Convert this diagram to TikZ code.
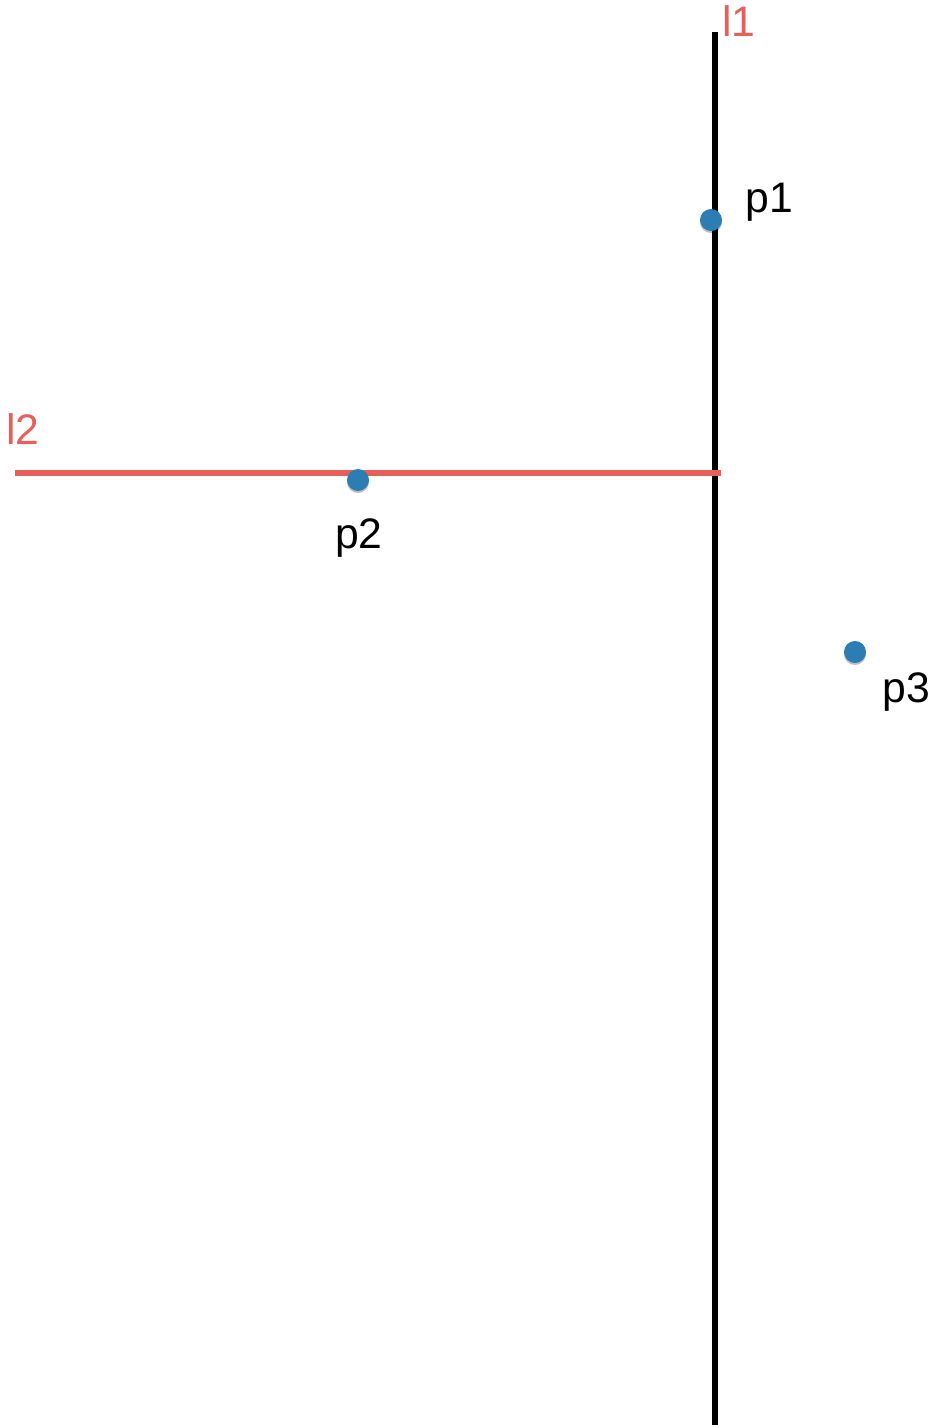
\documentclass[tikz,border=0pt]{standalone}
\usepackage{fontspec}
\setmainfont{Liberation Sans}
\usetikzlibrary{shadows}
\definecolor{dotblue}{HTML}{2D7DB5}
\definecolor{linered}{HTML}{E85F5A}
\begin{document}
\begin{tikzpicture}[x=0.75pt,y=-0.75pt,
  dot/.style={circle,fill=dotblue,inner sep=0pt,minimum size=16.5pt,
    drop shadow={shadow xshift=0pt,shadow yshift=-1.5pt,opacity=0.25,fill=black}},
  lbl/.style={inner sep=0pt,font=\fontsize{32}{38}\selectfont},
  redlbl/.style={lbl,text=linered},
  blackline/.style={line width=3.8pt,draw=black},
  redline/.style={line width=3.8pt,draw=linered}]
\useasboundingbox (0,0) rectangle (935,1425);
\coordinate (l1top) at (715,32);
\coordinate (l1bot) at (715,1425);
\coordinate (l2left) at (15,473);
\coordinate (l2right) at (721,473);
\draw[blackline] (l1top) -- (l1bot);
\draw[redline] (l2left) -- (l2right);
\node[dot] (p1) at (711,220) {};
\node[dot] (p2) at (358,480) {};
\node[dot] (p3) at (855,652) {};
\node[redlbl] (l1lbl) at (739,21) {l1};
\node[redlbl] (l2lbl) at (23,429) {l2};
\node[lbl] (p1lbl) at (769,202) {p1};
\node[lbl] (p2lbl) at (359,538) {p2};
\node[lbl] (p3lbl) at (906,692) {p3};
\end{tikzpicture}
\end{document}
